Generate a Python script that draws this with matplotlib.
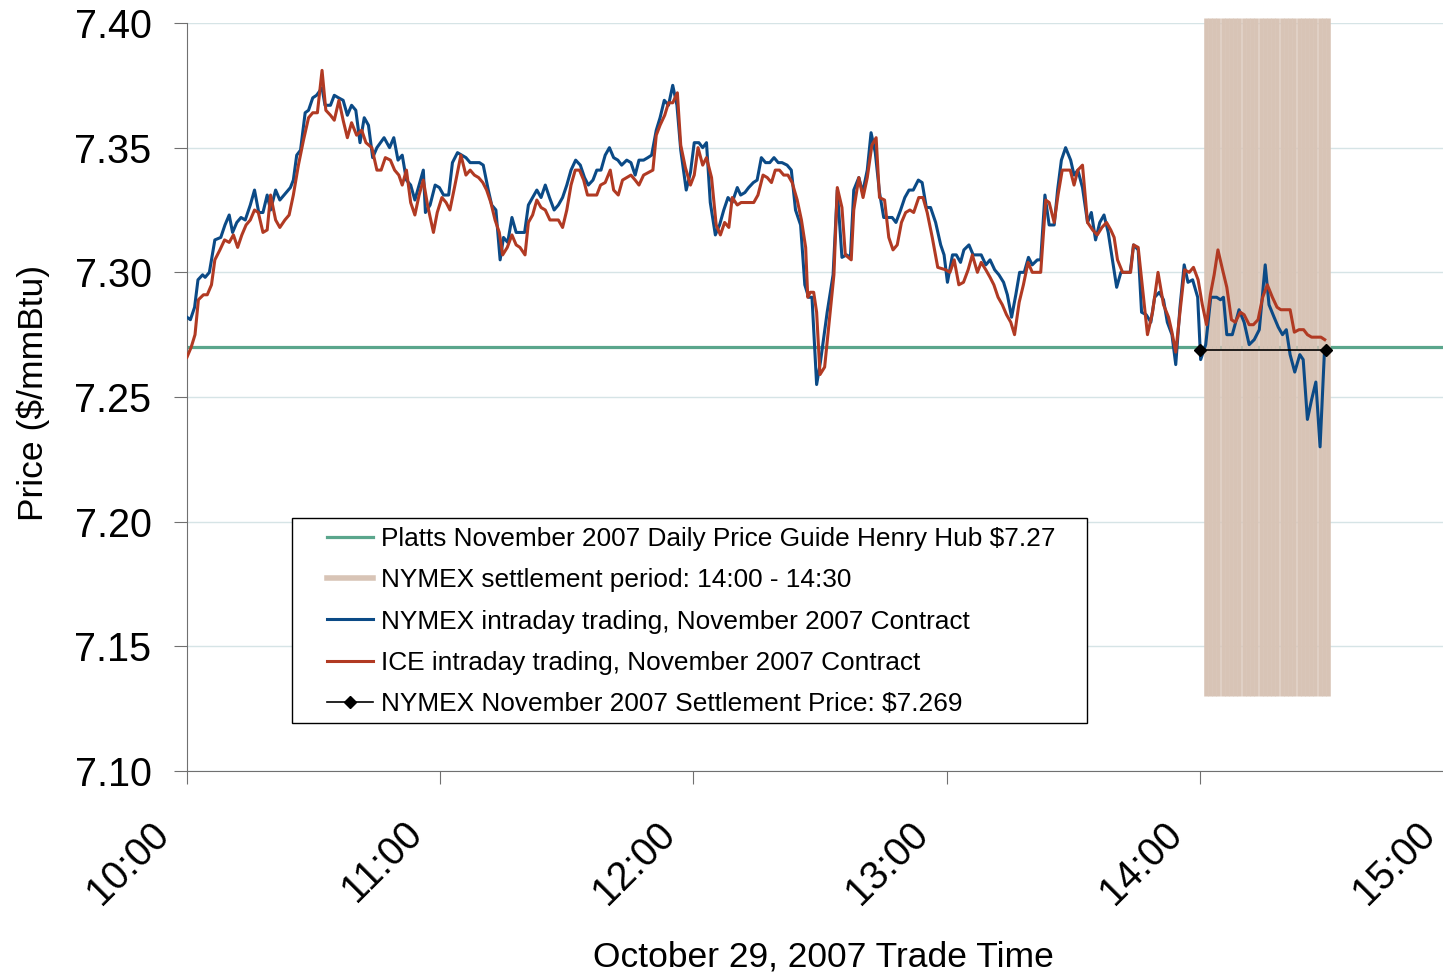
import matplotlib
matplotlib.use("Agg")
import matplotlib.pyplot as plt
import numpy as np
from matplotlib.lines import Line2D
from matplotlib.patches import Rectangle
from matplotlib.transforms import ScaledTranslation

plt.rcParams['font.family'] = ['Liberation Sans', 'DejaVu Sans']

# minutes after 10:00 and prices ($/mmBtu)
nymex_t = [0, 0.8, 1.8, 2.6, 3.7, 4.3, 5.3, 6.6, 8, 9, 10, 10.8, 11.8, 12.8, 13.8, 15, 16, 17, 18, 19,
           19.8, 21, 22, 23, 24.5, 25.2, 26, 26.9, 28, 28.8, 29.8, 30.7, 32, 32.7, 34, 34.9, 35.9, 37, 38, 39,
           40, 41, 42, 43, 44, 45, 46.7, 48, 49, 50, 51, 52, 53, 54, 55, 56, 56.5, 57.6, 58.8, 59.8,
           60.8, 62, 62.9, 64.1, 65.1, 66.1, 67.1, 68.3, 69.3, 70.2, 71.4, 72.2, 73.2, 74.2, 75, 76, 77, 78, 78.9, 80,
           80.9, 81.9, 82.9, 83.9, 84.9, 85.9, 87, 88, 89, 90, 91, 92.1, 93.2, 94.2, 95.1, 96.2, 97.1, 98.1, 99.1, 100.1,
           101.1, 102.1, 103, 104.2, 105.2, 106.2, 107.1, 108.2, 109.2, 110.1, 111.2, 112.1, 113.1, 114.1, 115.1, 116.1, 117, 118.3,
           119.3, 120.2, 121.3, 122.2, 123.1, 124, 125.2, 126.2, 127.2, 128.2, 129.2, 130.4, 131.2, 132.2, 133.1, 134.2, 135.1,
           136.1, 137.1, 138.1, 139.1, 140.1, 141, 142.2, 143.2, 144.2, 145.4, 146.4, 147.3, 148.1, 149.2, 150.1, 151.7,
           153.1, 154.1, 155.2, 156.3, 157.2, 158, 159.2, 160.1, 161.2, 162.1, 163.1, 164.1, 165.1, 166.1, 167.1, 168,
           169.1, 170.1, 171.1, 172.1, 173.3, 174.2, 175.2, 176.2, 177.4,
           178.6, 179.4, 180.2, 181.4, 182.3, 183.3, 184.1, 185.3, 186.3, 187.3, 188.2, 189.3, 190.3, 191.4, 192.4, 193.5,
           194.4, 195.4, 196.4, 197.3, 198.4, 199.4, 200.3, 201.5, 202.3, 203.3, 204.3, 205.5, 206.3, 207.2, 208.2, 209.4,
           210.2, 211.1, 212.2, 213.4, 214.3, 215.3, 216.3, 217.3, 218.3, 219.3, 220.3, 221.3, 222.4, 223.5, 224.3, 225.4,
           226.2, 227.3, 228.4, 229.3, 230.4, 231.4, 232.3, 233.4, 234.3, 235.3,
           236.3, 237.2, 238.3, 239.5, 240.2, 241.4, 242.6, 244, 244.9, 245.6, 246.4, 247.7, 249.3, 250.5, 251.7, 252.9,
           254.1, 255.5, 256.4, 257.6, 258.6, 259.6, 260.5, 261.4, 262.5, 263.7, 264.5, 265.5, 266.5, 267.5, 268.5, 269.5, 270]
nymex_p = [7.282, 7.281, 7.286, 7.297, 7.299, 7.298, 7.300, 7.313, 7.314, 7.319, 7.323, 7.316, 7.320, 7.322, 7.321, 7.327, 7.333, 7.324, 7.324, 7.331,
           7.325, 7.333, 7.329, 7.331, 7.334, 7.337, 7.347, 7.349, 7.364, 7.365, 7.370, 7.371, 7.374, 7.367, 7.367, 7.371, 7.370, 7.369, 7.363, 7.367,
           7.365, 7.352, 7.362, 7.359, 7.346, 7.350, 7.354, 7.350, 7.354, 7.345, 7.347, 7.337, 7.335, 7.329, 7.335, 7.341, 7.324, 7.327, 7.335, 7.334,
           7.331, 7.331, 7.344, 7.348, 7.347, 7.346, 7.344, 7.344, 7.344, 7.343, 7.333, 7.327, 7.325, 7.305, 7.314, 7.312, 7.322, 7.316, 7.316, 7.316,
           7.327, 7.330, 7.333, 7.330, 7.335, 7.330, 7.325, 7.327, 7.330, 7.335, 7.341, 7.345, 7.343, 7.338, 7.335, 7.337, 7.341, 7.341, 7.347, 7.350,
           7.346, 7.345, 7.343, 7.345, 7.344, 7.339, 7.345, 7.345, 7.346, 7.347, 7.357, 7.362, 7.369, 7.367, 7.375, 7.367, 7.349, 7.333,
           7.340, 7.352, 7.352, 7.350, 7.352, 7.328, 7.315, 7.319, 7.325, 7.330, 7.328, 7.334, 7.331, 7.332, 7.334, 7.336, 7.337,
           7.346, 7.344, 7.344, 7.346, 7.344, 7.344, 7.343, 7.341, 7.325, 7.319, 7.295, 7.290, 7.290, 7.255, 7.264, 7.284,
           7.299, 7.333, 7.306, 7.307, 7.306, 7.333, 7.338, 7.332, 7.341, 7.356, 7.348, 7.332, 7.322, 7.322, 7.322, 7.320,
           7.325, 7.330, 7.333, 7.333, 7.337, 7.336, 7.326, 7.326, 7.320,
           7.311, 7.307, 7.296, 7.307, 7.307, 7.304, 7.309, 7.311, 7.307, 7.307, 7.307, 7.303, 7.305, 7.301, 7.299, 7.296,
           7.291, 7.282, 7.291, 7.300, 7.300, 7.306, 7.303, 7.305, 7.305, 7.331, 7.319, 7.319, 7.333, 7.345, 7.350, 7.345,
           7.339, 7.341, 7.334, 7.320, 7.324, 7.313, 7.320, 7.323, 7.316, 7.305, 7.294, 7.300, 7.300, 7.300, 7.311, 7.309,
           7.284, 7.283, 7.280, 7.290, 7.292, 7.289, 7.280, 7.275, 7.263, 7.286,
           7.303, 7.296, 7.297, 7.290, 7.265, 7.271, 7.290, 7.290, 7.289, 7.290, 7.275, 7.275, 7.285, 7.280, 7.271, 7.273,
           7.277, 7.303, 7.287, 7.282, 7.278, 7.275, 7.277, 7.267, 7.260, 7.267, 7.265, 7.241, 7.249, 7.256, 7.230, 7.267, 7.269]

ice_t = [0, 1, 1.9, 2.7, 3.9, 4.8, 5.8, 6.6, 7.8, 8.9, 10, 11, 12, 13, 14, 15, 16, 16.9, 18, 19,
         19.8, 21, 22, 23.2, 24.2, 25.2, 26.4, 27.6, 28.8, 29.8, 30.9, 32, 32.9, 34, 34.9, 36, 37, 38, 39, 40.2,
         41.4, 42.4, 43.8, 45, 46, 47, 48.2, 49.2, 50.2, 51, 52, 53, 54, 55, 56, 57,
         58.4, 59.3, 60.4, 61.4, 62.3, 63.5, 64.9, 66.1, 67.1, 68.1, 69.1, 70.1, 71, 72, 73, 74, 74.8, 75.9, 77, 78,
         78.9, 80.1, 80.9, 81.9, 82.9, 83.9, 84.9, 86, 87, 88, 89, 90, 91, 92, 93, 94, 94.9, 96.1, 97.1, 98,
         99.1, 100.3, 101.1, 102.2, 103.2, 104.2, 105.2, 106.2, 107.1, 108.2, 109.3, 110.4, 111.2, 112.1, 113.2, 114.1,
         115.1, 116.2, 117, 118.1,
         119.3, 120.2, 121.1, 122.2, 123.1, 124.3, 125.4, 126.4, 127.4, 128.4, 129.2, 130.4, 131.3, 132.3, 133.4, 134.3,
         135.3, 136.5, 137.5, 138.5, 139.4, 140.4, 141.4, 142.4, 143.4, 144.6, 145.6, 146.6, 147.1, 147.7, 148.5, 149.2,
         150, 151.1, 152.3, 153.3, 154.1, 155.2, 156, 157.4, 158, 159.2, 160.2, 161.2, 162.3, 163.3, 164.1, 165.3,
         166.3, 167.3, 168.3, 169.3, 170.3, 171.3, 172.2, 173.4, 174.4, 175.4, 176.6, 177.9,
         179.8, 180.8, 181.8, 182.9, 184, 185.1, 186.1, 187.3, 188.2, 189.3, 190.3, 191.2, 192.2, 193.2, 194.2, 195.2,
         196.1, 197.2, 198.2, 199.3, 200.3, 201.4, 202.3, 203.5, 204.3, 205.5, 206.4, 207.4, 208.5, 209.3, 210.2, 211.1,
         212.2, 213.4, 214.6, 215.7, 216.8, 217.9, 218.9, 219.7, 220.5, 221.7, 222.7, 223.6, 224.3, 225.4, 226.4, 227.6,
         228.8, 230.1, 231.4, 232.6, 233.4, 234.3, 235.3,
         236.4, 237.5, 238.5, 239.6, 240.6, 241.6, 242.5, 243.4, 244.3, 245.4, 246.4, 247.5, 248.4, 249.6, 250.5, 251.7,
         252.7, 253.8, 254.9, 256, 257.2, 258.3, 259.2, 260.4, 261.4, 262.4, 263.5, 264.6, 265.5, 266.5, 267.5, 268.7, 269.6]
ice_p = [7.266, 7.270, 7.275, 7.289, 7.291, 7.291, 7.295, 7.305, 7.309, 7.313, 7.312, 7.315, 7.310, 7.315, 7.319, 7.321, 7.325, 7.324, 7.316, 7.317,
         7.331, 7.321, 7.318, 7.321, 7.323, 7.331, 7.343, 7.353, 7.362, 7.364, 7.364, 7.381, 7.365, 7.363, 7.361, 7.369, 7.361, 7.354, 7.360, 7.355,
         7.357, 7.352, 7.350, 7.341, 7.341, 7.346, 7.345, 7.341, 7.339, 7.335, 7.341, 7.328, 7.323, 7.331, 7.337, 7.327,
         7.316, 7.324, 7.330, 7.328, 7.325, 7.335, 7.347, 7.339, 7.341, 7.339, 7.338, 7.336, 7.333, 7.328, 7.321, 7.316, 7.307, 7.310, 7.315, 7.311,
         7.310, 7.307, 7.320, 7.323, 7.329, 7.326, 7.325, 7.321, 7.321, 7.321, 7.318, 7.325, 7.335, 7.341, 7.341, 7.337, 7.331, 7.331, 7.331, 7.335,
         7.336, 7.341, 7.333, 7.331, 7.337, 7.338, 7.339, 7.337, 7.335, 7.339, 7.340, 7.341, 7.355, 7.359, 7.363, 7.368,
         7.368, 7.372, 7.351, 7.342,
         7.335, 7.339, 7.350, 7.343, 7.346, 7.338, 7.319, 7.315, 7.320, 7.318, 7.330, 7.327, 7.328, 7.328, 7.328, 7.328,
         7.331, 7.339, 7.338, 7.336, 7.341, 7.341, 7.339, 7.339, 7.336, 7.329, 7.321, 7.310, 7.290, 7.292, 7.292, 7.284,
         7.259, 7.262, 7.282, 7.299, 7.334, 7.326, 7.307, 7.305, 7.325, 7.338, 7.330, 7.338, 7.351, 7.354, 7.330, 7.329,
         7.314, 7.309, 7.311, 7.320, 7.324, 7.325, 7.324, 7.330, 7.330, 7.324, 7.314, 7.302,
         7.301, 7.300, 7.305, 7.295, 7.296, 7.301, 7.307, 7.300, 7.304, 7.301, 7.298, 7.295, 7.290, 7.287, 7.283, 7.280,
         7.275, 7.288, 7.295, 7.304, 7.300, 7.300, 7.300, 7.329, 7.328, 7.320, 7.331, 7.341, 7.341, 7.341, 7.335, 7.341,
         7.343, 7.320, 7.317, 7.315, 7.318, 7.320, 7.317, 7.314, 7.305, 7.300, 7.300, 7.300, 7.311, 7.310, 7.294, 7.275,
         7.284, 7.300, 7.287, 7.282, 7.276, 7.268, 7.284,
         7.301, 7.300, 7.302, 7.297, 7.287, 7.279, 7.291, 7.299, 7.309, 7.301, 7.294, 7.281, 7.280, 7.284, 7.283, 7.279,
         7.279, 7.281, 7.290, 7.295, 7.290, 7.286, 7.285, 7.285, 7.285, 7.276, 7.277, 7.277, 7.275, 7.274, 7.274, 7.274, 7.273]

platts_price = 7.27
settle_price = 7.269
settle_t = [240, 270]
settle_bar_lo, settle_bar_hi = 7.13, 7.402
tick_minutes = [0, 60, 120, 180, 240, 300]
tick_labels = ['10:00', '11:00', '12:00', '13:00', '14:00', '15:00']

c_green = '#5aa68c'
c_tan = '#d8c4b6'
c_blue = '#0b4a86'
c_red = '#b13a23'

fig = plt.figure(figsize=(14.43, 9.76), dpi=100)
ax = fig.add_axes([187 / 1443, 1 - 771 / 976, 1266 / 1443, 748 / 976])

ax.axhline(platts_price, color=c_green, lw=2.3, zorder=2)
# settlement window drawn as one thick bar per minute, like the original
ax.vlines(np.arange(settle_t[0] + 1, settle_t[1] + 1) + 0.4, settle_bar_lo, settle_bar_hi,
          color=c_tan, lw=3.3, zorder=3, clip_on=False)
ax.plot(nymex_t, nymex_p, color=c_blue, lw=2.2, zorder=4)
ax.plot(ice_t, ice_p, color=c_red, lw=2.2, zorder=5)
ax.plot(settle_t, [settle_price] * 2, color='black', lw=1.2, marker='D', ms=6, zorder=6)

ax.set_xlim(0, 300)
ax.set_ylim(7.10, 7.40)
ax.set_yticks([7.10, 7.15, 7.20, 7.25, 7.30, 7.35, 7.40])
ax.set_yticklabels(['%.2f' % v for v in ax.get_yticks()])
ax.set_xticks(tick_minutes)
ax.tick_params(axis='x', labelbottom=False)
# rotated time labels, shifted left of their ticks as in the original
lab_tf = ax.get_xaxis_transform() + ScaledTranslation(-0.24, -0.57, fig.dpi_scale_trans)
for m, lab in zip(tick_minutes, tick_labels):
    ax.text(m, 0, lab, transform=lab_tf, rotation=45, ha='right', va='center',
            rotation_mode='anchor', fontsize=28.5, clip_on=False)

ax.yaxis.grid(True, color='#d6e4e6', lw=1)
ax.set_axisbelow(True)
for s in ['top', 'right']:
    ax.spines[s].set_visible(False)
for s in ['left', 'bottom']:
    ax.spines[s].set_color('#707070')
ax.tick_params(axis='both', length=9.5, color='#707070', labelsize=28.5, direction='out')
ax.tick_params(axis='y', pad=16)

ax.set_ylabel('Price ($/mmBtu)', fontsize=25.5, va='center')
ax.yaxis.set_label_coords(-0.1216, 0.505)
ax.set_xlabel('October 29, 2007 Trade Time', fontsize=25.5, va='center')
ax.xaxis.set_label_coords(0.503, -0.249)

# legend box
ax.add_patch(Rectangle((105 / 1266, 48 / 748), 795 / 1266, 205 / 748, transform=ax.transAxes,
                       facecolor='white', edgecolor='black', lw=1, zorder=7))
handles = [
    Line2D([], [], color=c_green, lw=2.3),
    Line2D([], [], color=c_tan, lw=4),
    Line2D([], [], color=c_blue, lw=2.2),
    Line2D([], [], color=c_red, lw=2.2),
    Line2D([], [], color='black', lw=1.2, marker='D', ms=6),
]
labels = [
    'Platts November 2007 Daily Price Guide Henry Hub $7.27',
    'NYMEX settlement period: 14:00 - 14:30',
    'NYMEX intraday trading, November 2007 Contract',
    'ICE intraday trading, November 2007 Contract',
    'NYMEX November 2007 Settlement Price: $7.269',
]
leg = ax.legend(handles, labels, loc='upper left', bbox_to_anchor=(140 / 1266, (771 - 527) / 748),
                frameon=False, fontsize=18.9, handlelength=1.75, handletextpad=0.3,
                labelspacing=0.66, borderpad=0, borderaxespad=0)
leg.set_zorder(8)

fig.savefig('out.png', dpi=100)
